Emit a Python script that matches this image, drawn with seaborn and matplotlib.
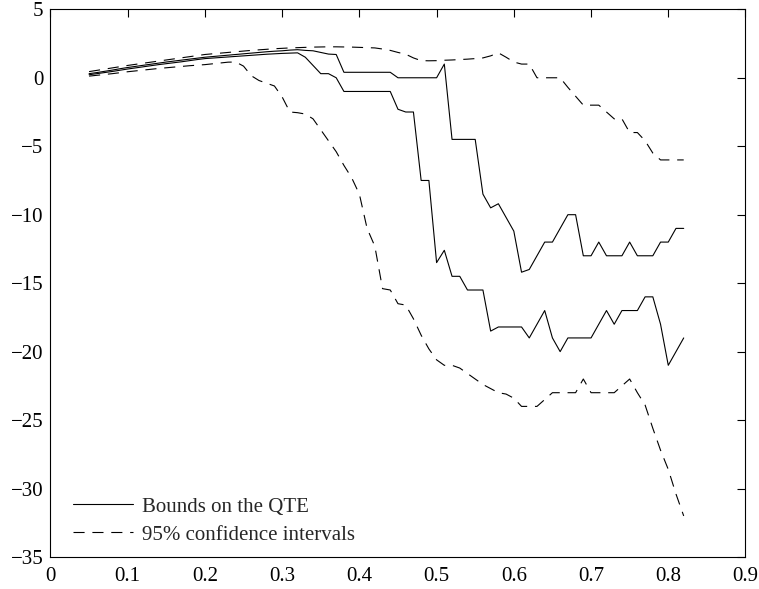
import matplotlib
matplotlib.use("Agg")
import matplotlib.pyplot as plt
import seaborn as sns

# quantiles on the x axis
quantiles = [0.05, 0.06, 0.07, 0.08, 0.09, 0.10, 0.11, 0.12, 0.13, 0.14,
             0.15, 0.16, 0.17, 0.18, 0.19, 0.20, 0.21, 0.22, 0.23, 0.24,
             0.25, 0.26, 0.27, 0.28, 0.29, 0.30, 0.31, 0.32, 0.33, 0.34,
             0.35, 0.36, 0.37, 0.38, 0.39, 0.40, 0.41, 0.42, 0.43, 0.44,
             0.45, 0.46, 0.47, 0.48, 0.49, 0.50, 0.51, 0.52, 0.53, 0.54,
             0.55, 0.56, 0.57, 0.58, 0.59, 0.60, 0.61, 0.62, 0.63, 0.64,
             0.65, 0.66, 0.67, 0.68, 0.69, 0.70, 0.71, 0.72, 0.73, 0.74,
             0.75, 0.76, 0.77, 0.78, 0.79, 0.80, 0.81, 0.82]

# bounds on the QTE
upper_bound = [0.30, 0.38, 0.47, 0.56, 0.66, 0.75, 0.83, 0.91, 0.99, 1.07,
               1.15, 1.22, 1.29, 1.36, 1.43, 1.50, 1.55, 1.60, 1.65, 1.70,
               1.75, 1.80, 1.85, 1.90, 1.94, 1.97, 2.02, 2.05, 2.00, 1.97,
               1.85, 1.73, 1.70, 0.40, 0.40, 0.40, 0.40, 0.40, 0.40, 0.40,
               0.00, 0.00, 0.00, 0.00, 0.00, 0.00, 1.00, -4.5, -4.5, -4.5,
               -4.5, -8.5, -9.5, -9.2, -10.2, -11.2, -14.2, -14.0, -13.0, -12.0,
               -12.0, -11.0, -10.0, -10.0, -13.0, -13.0, -12.0, -13.0, -13.0, -13.0,
               -12.0, -13.0, -13.0, -13.0, -12.0, -12.0, -11.0, -11.0]

lower_bound = [0.22, 0.30, 0.38, 0.46, 0.55, 0.64, 0.72, 0.80, 0.88, 0.96,
               1.03, 1.10, 1.17, 1.25, 1.33, 1.40, 1.44, 1.48, 1.52, 1.56,
               1.60, 1.64, 1.68, 1.72, 1.75, 1.78, 1.80, 1.82, 1.50, 0.90,
               0.30, 0.30, 0.00, -1.0, -1.0, -1.0, -1.0, -1.0, -1.0, -1.0,
               -2.3, -2.5, -2.5, -7.5, -7.5, -13.5, -12.6, -14.5, -14.5, -15.5,
               -15.5, -15.5, -18.5, -18.2, -18.2, -18.2, -18.2, -19.0, -18.0, -17.0,
               -19.0, -20.0, -19.0, -19.0, -19.0, -19.0, -18.0, -17.0, -18.0, -17.0,
               -17.0, -17.0, -16.0, -16.0, -18.0, -21.0, -20.0, -19.0]

# 95% confidence intervals
ci_upper = [0.45, 0.54, 0.63, 0.72, 0.81, 0.90, 0.98, 1.06, 1.14, 1.22,
            1.30, 1.38, 1.46, 1.54, 1.62, 1.70, 1.75, 1.80, 1.85, 1.90,
            1.95, 2.00, 2.04, 2.08, 2.12, 2.15, 2.18, 2.20, 2.22, 2.24,
            2.25, 2.26, 2.26, 2.25, 2.24, 2.22, 2.20, 2.18, 2.10, 2.00,
            1.85, 1.72, 1.45, 1.25, 1.24, 1.25, 1.28, 1.30, 1.33, 1.36,
            1.40, 1.45, 1.60, 1.82, 1.50, 1.15, 1.00, 1.00, 0.00, 0.00,
            0.00, 0.00, -0.70, -1.35, -2.0, -2.0, -2.0, -2.5, -3.0, -3.0,
            -4.0, -4.0, -4.6, -5.5, -6.0, -6.0, -6.0, -6.0]

ci_lower = [0.12, 0.18, 0.24, 0.30, 0.37, 0.44, 0.50, 0.56, 0.62, 0.68,
            0.73, 0.78, 0.83, 0.88, 0.92, 0.96, 1.02, 1.08, 1.14, 1.15,
            0.85, 0.15, -0.20, -0.40, -0.60, -1.40, -2.50, -2.55, -2.65, -3.0,
            -3.8, -4.6, -5.4, -6.4, -7.3, -8.5, -11.0, -12.3, -15.4, -15.5,
            -16.5, -16.6, -17.6, -18.8, -19.8, -20.6, -21.0, -21.0, -21.2, -21.6,
            -22.0, -22.4, -22.7, -23.0, -23.1, -23.4, -24.0, -24.0, -24.0, -23.5,
            -23.0, -23.0, -23.0, -23.0, -22.0, -23.0, -23.0, -23.0, -23.0, -22.5,
            -22.0, -23.0, -23.9, -25.6, -27.2, -28.6, -30.4, -32.0]

xticks = [0, 0.1, 0.2, 0.3, 0.4, 0.5, 0.6, 0.7, 0.8, 0.9]
xtick_labels = ['0', '0.1', '0.2', '0.3', '0.4', '0.5', '0.6', '0.7', '0.8', '0.9']
yticks = [-35, -30, -25, -20, -15, -10, -5, 0, 5]
ytick_labels = ['\u221235', '\u221230', '\u221225', '\u221220', '\u221215',
                '\u221210', '\u22125', '0', '5']

sns.set_style('white')
plt.rcParams['font.family'] = ['Liberation Serif', 'DejaVu Serif']
plt.rcParams['font.size'] = 15

fig = plt.figure(figsize=(7.59, 5.89), dpi=100)
ax = fig.add_axes([0.0665, 0.0543, 0.9157, 0.9299])

solid = dict(color='black', linewidth=0.8)
dashed = dict(color='black', linewidth=0.8, linestyle=(0, (10, 7)))

sns.lineplot(x=quantiles, y=upper_bound, ax=ax, sort=False, errorbar=None, **solid)
sns.lineplot(x=quantiles, y=lower_bound, ax=ax, sort=False, errorbar=None, **solid)
sns.lineplot(x=quantiles, y=ci_upper, ax=ax, sort=False, errorbar=None, **dashed)
sns.lineplot(x=quantiles, y=ci_lower, ax=ax, sort=False, errorbar=None, **dashed)

ax.set_xlim(0, 0.9)
ax.set_ylim(-35, 5)
ax.set_xticks(xticks)
ax.set_xticklabels(xtick_labels)
ax.set_yticks(yticks)
ax.set_yticklabels(ytick_labels)
ax.tick_params(direction='in', length=6, width=0.8, top=True, right=True,
               labelsize=15, colors='black')
ax.tick_params(axis='x', pad=7)
ax.tick_params(axis='y', pad=5)

for sp in ax.spines.values():
    sp.set_visible(True)
    sp.set_color('black')
    sp.set_linewidth(0.8)

lines = ax.get_lines()
ax.legend([lines[0], lines[2]], ['Bounds on the QTE', '95% confidence intervals'],
          loc='lower left', bbox_to_anchor=(0.0324, 0.0228), frameon=False,
          fontsize=15, handlelength=2.9, handletextpad=0.4, labelspacing=0.4,
          borderpad=0.0, borderaxespad=0.0)

fig.savefig('out.png', dpi=100)
